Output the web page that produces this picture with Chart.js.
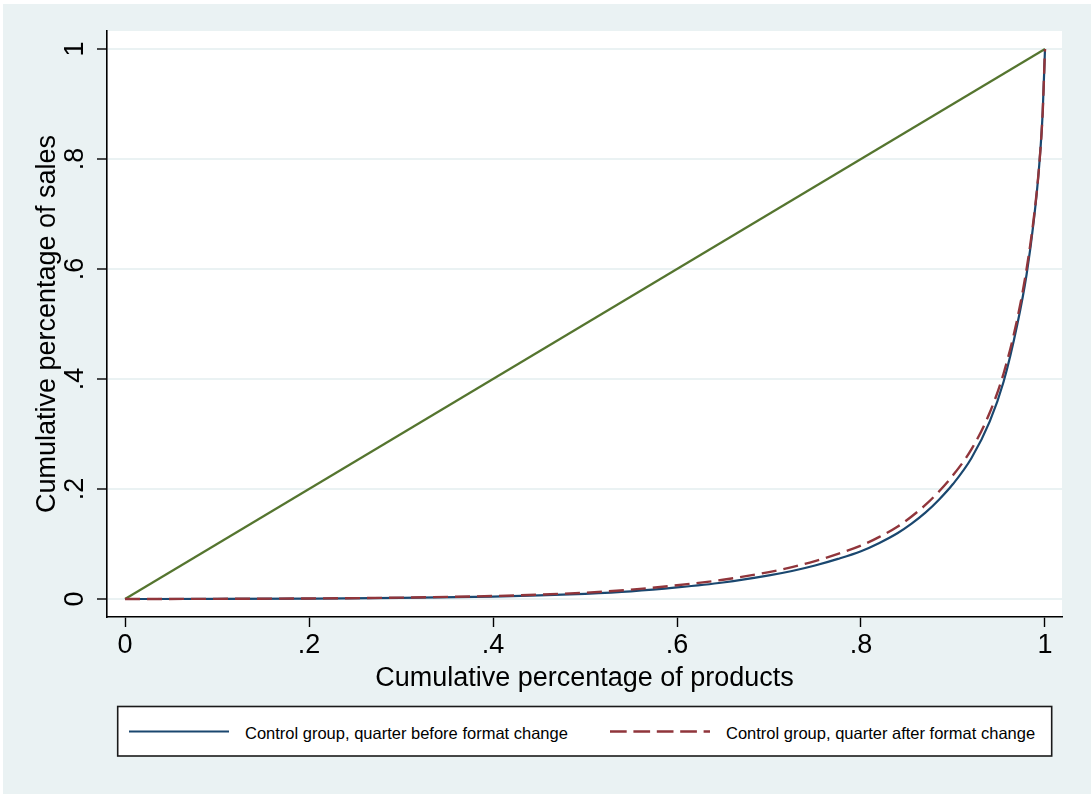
<!DOCTYPE html>
<html>
<head>
<meta charset="utf-8">
<script src="https://cdn.jsdelivr.net/npm/chart.js@4/dist/chart.umd.min.js"></script>
<style>
  html, body { margin: 0; padding: 0; background: #ffffff; }
  #frame {
    position: absolute; left: 3px; top: 4px;
    width: 1088px; height: 790px;
    background: #EAF2F3;
  }
  #lorenz { position: absolute; left: 0; top: 0; }
  #key { position: absolute; left: 0; top: 0; }
</style>
</head>
<body>
<div id="frame">
  <canvas id="lorenz" width="1088" height="790"></canvas>
  <svg id="key" width="1088" height="790" xmlns="http://www.w3.org/2000/svg"></svg>
</div>
<script>
// Cumulative share of products (x) and of sales (y) for the Lorenz curves
const productShare = [0, 0.1, 0.2, 0.3, 0.4, 0.45, 0.5, 0.55, 0.6, 0.65, 0.7, 0.725, 0.75, 0.775, 0.8,
  0.82, 0.84, 0.855, 0.87, 0.885, 0.9, 0.92, 0.94, 0.955, 0.97, 0.98, 0.988, 0.9938, 0.9975, 1];
const salesBefore = [0, 0.0002, 0.0008, 0.002, 0.0045, 0.0065, 0.0095, 0.014, 0.021, 0.030, 0.043, 0.051, 0.061, 0.073, 0.087,
  0.102, 0.120, 0.137, 0.157, 0.181, 0.209, 0.256, 0.323, 0.395, 0.50, 0.59, 0.69, 0.79, 0.885, 1];
const salesAfter = [0, 0.0003, 0.001, 0.0025, 0.0055, 0.008, 0.0115, 0.017, 0.025, 0.035, 0.049, 0.058, 0.069, 0.082, 0.097,
  0.113, 0.132, 0.150, 0.171, 0.196, 0.225, 0.272, 0.339, 0.410, 0.51, 0.60, 0.695, 0.79, 0.885, 1];

// Line of perfect equality
const equalityX = [0, 1];
const equalityY = [0, 1];

const seriesNames = [
  'Control group, quarter before format change',
  'Control group, quarter after format change'
];

const xTicks = [0, 0.2, 0.4, 0.6, 0.8, 1];
const xTickLabels = ['0', '.2', '.4', '.6', '.8', '1'];
const yTicks = [0, 0.2, 0.4, 0.6, 0.8, 1];
const yTickLabels = ['0', '.2', '.4', '.6', '.8', '1'];

const xTitle = 'Cumulative percentage of products';
const yTitle = 'Cumulative percentage of sales';

const NAVY = '#1A476F';
const MAROON = '#90353B';
const GREEN = '#55752F';
const FONT = "'Liberation Sans', Arial, Helvetica, sans-serif";

const toPoints = (xs, ys) => xs.map((x, i) => ({ x: x, y: ys[i] }));

// White plotting region behind the grid and curves
const plotBackground = {
  id: 'plotBackground',
  beforeDraw(chart) {
    const a = chart.chartArea;
    const ctx = chart.ctx;
    ctx.save();
    ctx.fillStyle = '#ffffff';
    ctx.fillRect(a.left, a.top, a.right - a.left, a.bottom - a.top);
    ctx.restore();
  }
};

new Chart(document.getElementById('lorenz'), {
  type: 'line',
  data: {
    datasets: [
      {
        label: seriesNames[1],
        data: toPoints(productShare, salesAfter),
        borderColor: MAROON, borderWidth: 2.4, borderDash: [15, 7],
        pointRadius: 0, fill: false, cubicInterpolationMode: 'monotone', order: 0
      },
      {
        label: seriesNames[0],
        data: toPoints(productShare, salesBefore),
        borderColor: NAVY, borderWidth: 2.2,
        pointRadius: 0, fill: false, cubicInterpolationMode: 'monotone', order: 1
      },
      {
        label: 'Equality',
        data: toPoints(equalityX, equalityY),
        borderColor: GREEN, borderWidth: 2.2,
        pointRadius: 0, fill: false, order: 2
      }
    ]
  },
  plugins: [plotBackground],
  options: {
    responsive: false,
    animation: false,
    devicePixelRatio: 1,
    layout: { padding: { top: 27, right: 29, bottom: 98.8, left: 0 } },
    plugins: { legend: { display: false }, tooltip: { enabled: false } },
    scales: {
      x: {
        type: 'linear',
        min: -0.0196,
        max: 1.0185,
        afterBuildTicks: s => { s.ticks = xTicks.map(v => ({ value: v })); },
        afterFit: s => { s.height = 78.2; },
        grid: { drawOnChartArea: false, drawTicks: true, tickLength: 10, tickColor: '#000', tickWidth: 1.4 },
        border: { color: '#000', width: 1.6 },
        ticks: {
          autoSkip: false, maxRotation: 0, minRotation: 0, padding: 2,
          color: '#000', font: { family: FONT, size: 27 },
          callback: v => xTickLabels[xTicks.indexOf(v)]
        },
        title: {
          display: true, text: xTitle, color: '#000',
          font: { family: FONT, size: 27 }, padding: { top: 0, bottom: 0 }
        }
      },
      y: {
        type: 'linear',
        min: -0.0327,
        max: 1.0327,
        afterBuildTicks: s => { s.ticks = yTicks.map(v => ({ value: v })); },
        afterFit: s => { s.width = 104; },
        grid: { color: '#EAF2F3', lineWidth: 2, drawTicks: true, tickLength: 10, tickColor: '#000', tickWidth: 1.4 },
        border: { color: '#000', width: 1.6 },
        ticks: {
          autoSkip: false, minRotation: 90, maxRotation: 90, crossAlign: 'center', padding: 10,
          color: '#000', font: { family: FONT, size: 27 },
          callback: v => yTickLabels[yTicks.indexOf(v)]
        },
        title: {
          display: true, text: yTitle, color: '#000',
          font: { family: FONT, size: 27 }, padding: { top: 28.4, bottom: 0 }
        }
      }
    }
  }
});

// Legend box below the plot
(function drawKey() {
  const svg = document.getElementById('key');
  const NS = 'http://www.w3.org/2000/svg';
  const el = (tag, attrs, text) => {
    const n = document.createElementNS(NS, tag);
    for (const k in attrs) n.setAttribute(k, attrs[k]);
    if (text) n.textContent = text;
    svg.appendChild(n);
    return n;
  };
  el('rect', { x: 114.7, y: 702.5, width: 934, height: 49.5, fill: '#ffffff', stroke: '#1a1a1a', 'stroke-width': 1.6 });
  el('line', { x1: 126, y1: 727.5, x2: 226, y2: 727.5, stroke: NAVY, 'stroke-width': 2.2 });
  el('text', { x: 242, y: 735, fill: '#000', 'font-family': FONT, 'font-size': 16.5 }, seriesNames[0]);
  el('line', { x1: 607, y1: 727.5, x2: 707, y2: 727.5, stroke: MAROON, 'stroke-width': 2.4, 'stroke-dasharray': '16.7 6.7' });
  el('text', { x: 723, y: 735, fill: '#000', 'font-family': FONT, 'font-size': 16.5 }, seriesNames[1]);
})();
</script>
</body>
</html>
